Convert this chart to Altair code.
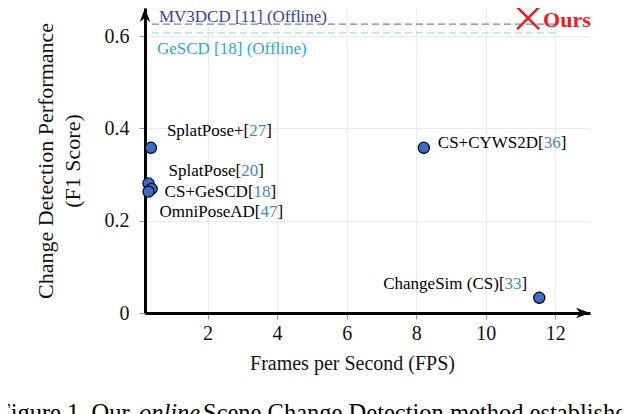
import altair as alt
import pandas as pd

# ---------------- data ----------------
methods = ["SplatPose+", "SplatPose", "CS+GeSCD", "OmniPoseAD", "CS+CYWS2D", "ChangeSim (CS)"]
refs = ["27", "20", "18", "47", "36", "33"]
fps = [0.37, 0.30, 0.39, 0.30, 8.22, 11.54]
f1 = [0.358, 0.281, 0.269, 0.263, 0.358, 0.033]

offline_names = ["MV3DCD [11] (Offline)", "GeSCD [18] (Offline)"]
offline_f1 = [0.626, 0.607]
offline_fps_start = [0.40, 0.40]
offline_fps_end = [12.05, 12.05]

ours_name = ["Ours"]
ours_fps = [11.22]
ours_f1 = [0.639]

x_ticks = [2, 4, 6, 8, 10, 12]
y_ticks = [0, 0.2, 0.4, 0.6]
x_domain = [0.2, 13.0]
y_domain = [0, 0.661]

caption_parts = ["Figure 1. Our", "online", "Scene Change Detection method establishes a new"]

# ---------------- styles ----------------
SERIF = "Liberation Serif"
PT_BLUE = "#3a6bc6"
REF_BLUE = "#4a86c8"
NAVY = "#34429a"
MV_LINE = "#6f82c6"
GE_TEXT = "#2ba6de"
GE_LINE = "#a6dbf0"
RED = "#f01c1c"
LABEL_SIZE = 17
label_offsets = [(16, -17), (20, -12), (13, 3), (11, 20), (14, -5), (-12, -14)]
label_right_aligned = [False, False, False, False, False, True]

# Times / Liberation Serif advance widths (per 1000 em)
W = {' ': 250, '(': 333, ')': 333, '+': 564, '[': 333, ']': 333, '.': 250,
     'A': 722, 'C': 667, 'D': 722, 'E': 611, 'G': 722, 'M': 889, 'O': 722, 'P': 556,
     'S': 556, 'V': 722, 'W': 944, 'Y': 722,
     'a': 444, 'd': 500, 'e': 444, 'g': 500, 'h': 500, 'i': 278, 'l': 278, 'm': 778,
     'n': 500, 'o': 500, 'p': 500, 's': 389, 't': 278}


def tw(s, size):
    return sum(W.get(c, 500) for c in s) * size / 1000.0


WIDTH, HEIGHT = 445, 305

xs = alt.Scale(domain=x_domain, nice=False, zero=False)
ys = alt.Scale(domain=y_domain, nice=False, zero=False)

x_axis = alt.Axis(
    values=x_ticks, format="d", title="Frames per Second (FPS)",
    labelFont=SERIF, labelFontSize=20, labelColor="#111", labelPadding=4,
    titleFont=SERIF, titleFontSize=20, titleFontWeight="normal", titleColor="#111",
    titlePadding=10, titleX=207, titleAlign="center",
    domainColor="black", domainWidth=3, tickColor="#999",
    tickSize=6, grid=True, gridColor="#ebebeb", gridWidth=1)
y_axis = alt.Axis(
    values=y_ticks, labelExpr="datum.value == 0 ? '0' : format(datum.value, '.1f')",
    title=["Change Detection Performance", "(F1 Score)"],
    labelFont=SERIF, labelFontSize=20, labelColor="#111", labelPadding=10,
    titleFont=SERIF, titleFontSize=22, titleFontWeight="normal", titleColor="#111",
    titleLineHeight=27, titlePadding=20, domainColor="black", domainWidth=3,
    tickColor="#999", tickSize=6, grid=True, gridColor="#ebebeb", gridWidth=1)
X = alt.X("x:Q", scale=xs, axis=x_axis)
Y = alt.Y("y:Q", scale=ys, axis=y_axis)

pts = pd.DataFrame({"x": fps, "y": f1, "method": methods, "ref": refs})
offl = pd.DataFrame({"x": offline_fps_start, "x2": offline_fps_end, "y": offline_f1,
                     "name": offline_names})
ours = pd.DataFrame({"x": ours_fps, "y": ours_f1, "name": ours_name})
ends = pd.DataFrame({"x": [x_domain[1], x_domain[0]], "y": [y_domain[0], y_domain[1]],
                     "dir": ["right", "up"]})

layers = []

# dashed offline reference lines
line_colors = [MV_LINE, GE_LINE]
for i in range(len(offline_names)):
    d = offl.iloc[[i]]
    layers.append(alt.Chart(d).mark_rule(color=line_colors[i], strokeWidth=1.3,
                                         strokeDash=[7, 4]).encode(
        x=X, x2="x2:Q", y=Y))

# offline labels
off_text_colors = [NAVY, GE_TEXT]
off_offsets = [(7, -7), (5, 16)]
for i in range(len(offline_names)):
    d = offl.iloc[[i]]
    layers.append(alt.Chart(d).mark_text(
        align="left", baseline="middle", font=SERIF, fontSize=LABEL_SIZE,
        color=off_text_colors[i], dx=off_offsets[i][0], dy=off_offsets[i][1]).encode(
        x=X, y=Y, text="name:N"))

# arrow heads on axes
layers.append(alt.Chart(ends[ends.dir == "right"]).mark_point(
    shape="M0,0 L-2,-0.75 L-1.4,0 L-2,0.75 Z", size=196, filled=True,
    color="black", opacity=1).encode(x=X, y=Y))
layers.append(alt.Chart(ends[ends.dir == "up"]).mark_point(
    shape="M0,0 L-0.75,2 L0,1.4 L0.75,2 Z", size=196, filled=True,
    color="black", opacity=1).encode(x=X, y=Y))

# method points
layers.append(alt.Chart(pts).mark_circle(
    size=125, color=PT_BLUE, stroke="black", strokeWidth=1.2, opacity=1).encode(x=X, y=Y))

# method labels: black name + blue reference number
for i in range(len(methods)):
    d = pts.iloc[[i]]
    prefix = methods[i] + "["
    num = refs[i]
    total = tw(prefix + num + "]", LABEL_SIZE)
    ox, oy = label_offsets[i]
    if label_right_aligned[i]:
        ox = ox - total
    pieces = [(prefix, ox, "black"),
              (num, ox + tw(prefix, LABEL_SIZE), REF_BLUE),
              ("]", ox + tw(prefix + num, LABEL_SIZE), "black")]
    for txt, dx, col in pieces:
        layers.append(alt.Chart(d).mark_text(
            text=txt, align="left", baseline="middle", font=SERIF,
            fontSize=LABEL_SIZE, color=col, dx=dx, dy=oy).encode(x=X, y=Y))

# ours
layers.append(alt.Chart(ours).mark_point(
    shape="M-1,-1 L1,1 M1,-1 L-1,1", size=480, filled=False, color=RED,
    strokeWidth=2.6, opacity=1).encode(x=X, y=Y))
layers.append(alt.Chart(ours).mark_text(
    align="left", baseline="middle", font=SERIF, fontSize=22, fontWeight="bold",
    color=RED, dx=15, dy=2).encode(x=X, y=Y, text="name:N"))

# caption (cut off by the page bottom, as in the source figure)
cap_x = [-148, -6, 58]
cap_style = ["normal", "italic", "normal"]
for txt, cx, st in zip(caption_parts, cap_x, cap_style):
    layers.append(alt.Chart(pd.DataFrame({"t": [txt]})).mark_text(
        text=txt, align="left", baseline="alphabetic", font=SERIF, fontSize=24.5,
        fontStyle=st, color="black").encode(x=alt.value(cx), y=alt.value(413)))

chart = alt.layer(*layers).properties(
    width=WIDTH, height=HEIGHT,
    autosize=alt.AutoSizeParams(type="none"),
    padding={"left": 137, "top": 0, "right": 32, "bottom": 101},
).configure_view(stroke=None)

chart.save("out.html", embed_options={"renderer": "svg", "actions": False})
